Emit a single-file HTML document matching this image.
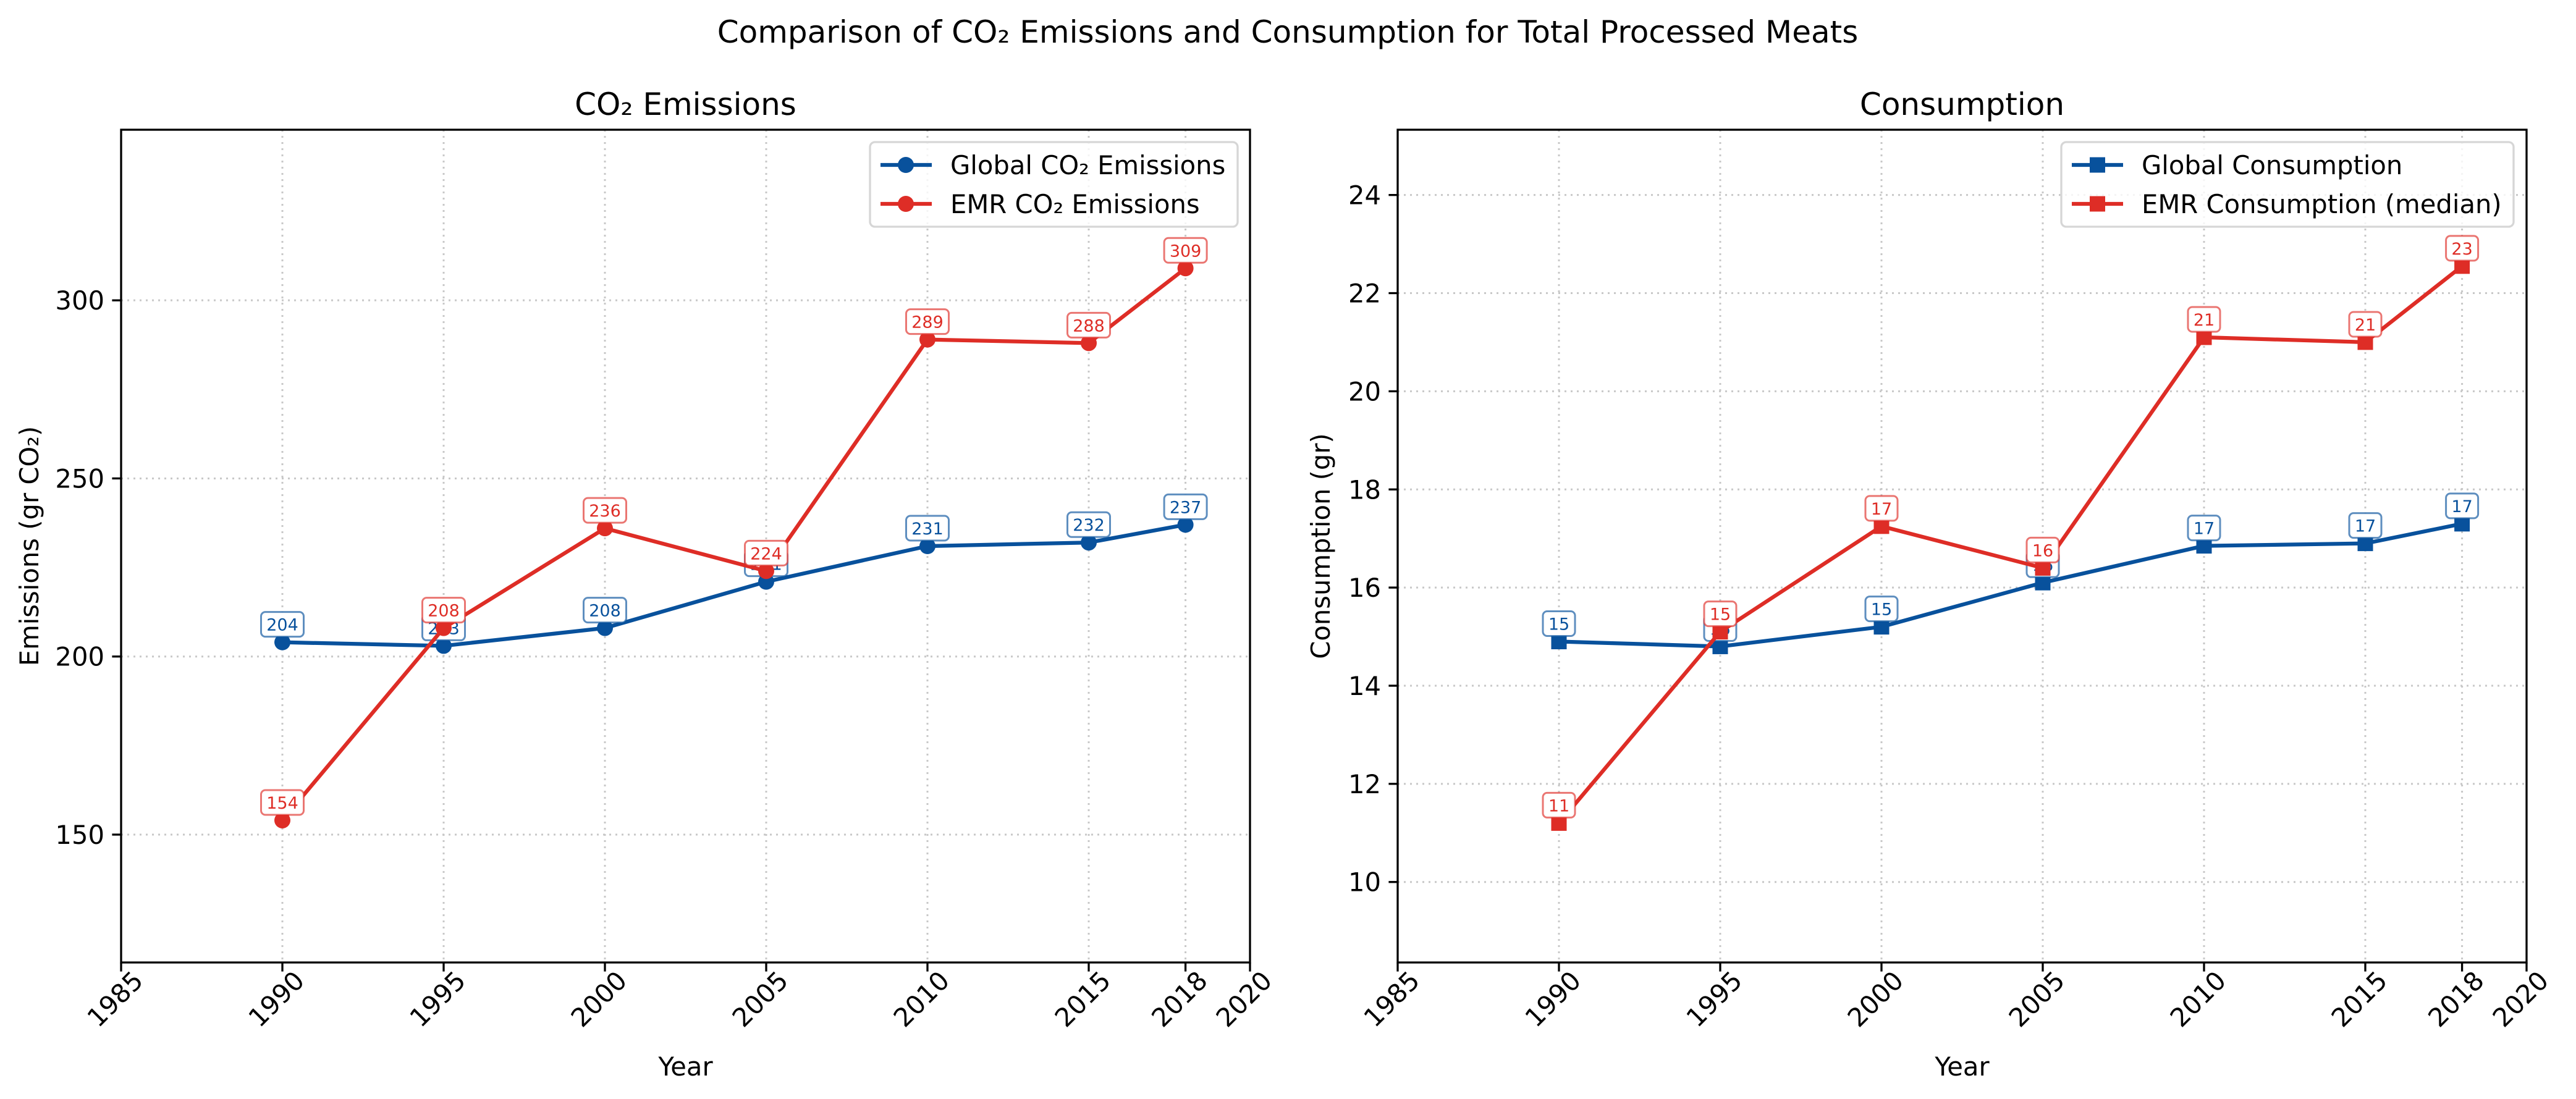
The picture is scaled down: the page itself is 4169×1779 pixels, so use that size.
<!DOCTYPE html>
<html><head><meta charset="utf-8"><style>
html,body{margin:0;padding:0;background:#fff}
svg{display:block;font-family:"DejaVu Sans","Liberation Sans",sans-serif}
</style></head><body>
<svg id="fig" width="4169" height="1779" viewBox="0 0 4169 1779" xmlns="http://www.w3.org/2000/svg">
<rect width="4169" height="1779" fill="#fff"/>
<text x="2084" y="69" font-size="50" text-anchor="middle">Comparison of CO₂ Emissions and Consumption for Total Processed Meats</text>
</svg>
<script>
const years = [1990, 1995, 2000, 2005, 2010, 2015, 2018];
const xTicks = [1985, 1990, 1995, 2000, 2005, 2010, 2015, 2018, 2020];
const globalEmissions = [204, 203, 208, 221, 231, 232, 237];
const emrEmissions = [154, 208, 236, 224, 289, 288, 309];
const globalConsumption = [14.9, 14.8, 15.2, 16.1, 16.85, 16.9, 17.3];
const emrConsumption = [11.2, 15.1, 17.25, 16.4, 21.1, 21.0, 22.55];
const emissionTicks = [150, 200, 250, 300];
const consumptionTicks = [10, 12, 14, 16, 18, 20, 22, 24];

const NS = "http://www.w3.org/2000/svg";
const svg = document.getElementById('fig');
const BLUE = "#08519c", RED = "#de2d26";
function mk(tag, attrs, parent) {
  const e = document.createElementNS(NS, tag);
  for (const k in attrs) e.setAttribute(k, attrs[k]);
  (parent || svg).appendChild(e);
  return e;
}
function panel(cfg) {
  const L = cfg.left, R = cfg.left + 1827, T = 210, B = 1558;
  const g = mk('g', {});
  
  
  const xs = v => L + (v - 1985) / 35 * (R - L);
  const ys = v => B - (v - cfg.ymin) / (cfg.ymax - cfg.ymin) * (B - T);
  xTicks.forEach(t => {
    if (t === 1985 || t === 2020) return;
    const l = mk('line', {x1: xs(t), x2: xs(t), y1: T, y2: B, stroke: '#c8c8c8', 'stroke-width': 3, 'stroke-dasharray': '3,7'}, g);
    
    
  });
  cfg.yticks.forEach(t => {
    const l = mk('line', {x1: L, x2: R, y1: ys(t), y2: ys(t), stroke: '#c8c8c8', 'stroke-width': 3, 'stroke-dasharray': '3,7'}, g);
    
    
  });
  xTicks.forEach(t => {
    const x = xs(t);
    mk('line', {x1: x, x2: x, y1: B, y2: B + 14.6, stroke: '#000', 'stroke-width': 3.3}, g);
    const tx = mk('text', {x: 0, y: 0, 'font-size': 41.7, 'text-anchor': 'end', transform: `translate(${x + 38},${B + 32}) rotate(-45)`}, g);
    tx.textContent = t;
    
    
  });
  cfg.yticks.forEach(t => {
    const y = ys(t);
    mk('line', {x1: L - 14.6, x2: L, y1: y, y2: y, stroke: '#000', 'stroke-width': 3.3}, g);
    const tx = mk('text', {x: L - 27, y: y + 15, 'font-size': 41.7, 'text-anchor': 'end'}, g);
    tx.textContent = t;
    
    
  });
  cfg.series.forEach(s => {
    const pts = years.map((yr, i) => [xs(yr), ys(s.values[i])]);
    const pl = mk('polyline', {points: pts.map(p => p.join(',')).join(' '), fill: 'none', stroke: s.color, 'stroke-width': 6.25, 'stroke-linejoin': 'round'}, g);
    
    
    pts.forEach((p, i) => {
      let m;
      if (cfg.square) m = mk('rect', {x: p[0] - 12.5, y: p[1] - 12.5, width: 25, height: 25, fill: s.color}, g);
      else m = mk('circle', {cx: p[0], cy: p[1], r: 13, fill: s.color}, g);
      
      
    });
    pts.forEach((p, i) => {
      const txt = String(Math.round(s.values[i]));
      const w = txt.length * 17 + 18;
      const bx = mk('rect', {x: p[0] - w / 2, y: p[1] - 49, width: w, height: 40, rx: 7, fill: '#fff', stroke: s.color, 'stroke-opacity': 0.65, 'stroke-width': 3}, g);
      
      
      const t = mk('text', {x: p[0], y: p[1] - 19, 'font-size': 27, 'text-anchor': 'middle', fill: s.color}, g);
      t.textContent = txt;
      
      
    });
  });
  const fr = mk('rect', {x: L, y: T, width: R - L, height: B - T, fill: 'none', stroke: '#000', 'stroke-width': 3.3}, g);
  
  
  const ti = mk('text', {x: (L + R) / 2, y: 186, 'font-size': 50, 'text-anchor': 'middle'}, g);
  ti.textContent = cfg.title;
  
  
  const xl = mk('text', {x: (L + R) / 2, y: 1741, 'font-size': 41.7, 'text-anchor': 'middle'}, g);
  xl.textContent = 'Year';
  
  
  const yl = mk('text', {x: 0, y: 0, 'font-size': 41.7, 'text-anchor': 'middle', transform: `translate(${cfg.ylabelX},${(T + B) / 2}) rotate(-90)`}, g);
  yl.textContent = cfg.ylabel;
  
  
  const lg = mk('g', {}, g);
  
  
  mk('rect', {x: cfg.legX, y: 230, width: cfg.legW, height: 137, rx: 8, fill: '#fff', 'fill-opacity': 0.8, stroke: '#d6d6d6', 'stroke-width': 3.3}, lg);
  cfg.series.forEach((s, i) => {
    const y = 267 + i * 63;
    const e = mk('g', {}, lg);
    
    
    mk('line', {x1: cfg.legX + 17, x2: cfg.legX + 100, y1: y, y2: y, stroke: s.color, 'stroke-width': 6.25}, e);
    if (cfg.square) mk('rect', {x: cfg.legX + 46, y: y - 12.5, width: 25, height: 25, fill: s.color}, e);
    else mk('circle', {cx: cfg.legX + 58, cy: y, r: 13, fill: s.color}, e);
    const t = mk('text', {x: cfg.legX + 130, y: y + 15, 'font-size': 41.7}, e);
    t.textContent = s.label;
  });
}
panel({name: 'emissions-chart', left: 196, ymin: 114.1, ymax: 347.9, yticks: emissionTicks,
  title: 'CO₂ Emissions', ylabel: 'Emissions (gr CO₂)', ylabelX: 62, legX: 1408, legW: 595, square: false,
  series: [{key: 'global-emissions', values: globalEmissions, color: BLUE, label: 'Global CO₂ Emissions'},
           {key: 'emr-emissions', values: emrEmissions, color: RED, label: 'EMR CO₂ Emissions'}]});
panel({name: 'consumption-chart', left: 2262, ymin: 8.36, ymax: 25.33, yticks: consumptionTicks,
  title: 'Consumption', ylabel: 'Consumption (gr)', ylabelX: 2152, legX: 3336, legW: 732, square: true,
  series: [{key: 'global-consumption', values: globalConsumption, color: BLUE, label: 'Global Consumption'},
           {key: 'emr-consumption', values: emrConsumption, color: RED, label: 'EMR Consumption (median)'}]});
</script>
</body></html>
